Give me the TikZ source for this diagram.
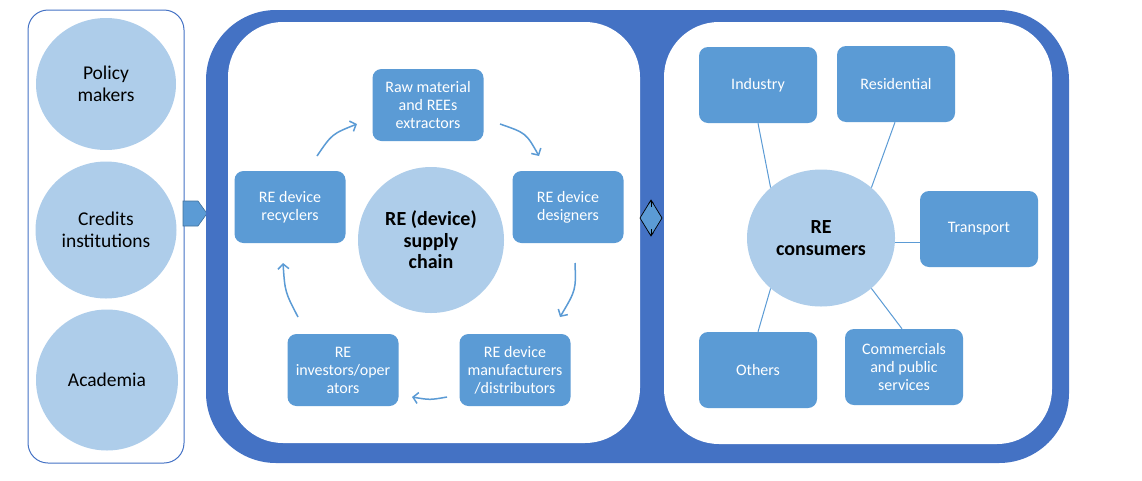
\documentclass[tikz,border=0pt]{standalone}
\usepackage{fontspec}
\setmainfont{Carlito}
\usetikzlibrary{shapes.geometric,arrows.meta}
\definecolor{darkblue}{RGB}{68,114,196}
\definecolor{boxblue}{RGB}{91,155,213}
\definecolor{lightblue}{RGB}{174,205,234}
\definecolor{edgeblue}{RGB}{65,113,156}
\tikzset{
  box/.style={rectangle, rounded corners=9pt, fill=boxblue, text=white, align=center,
    minimum width=111pt, minimum height=72pt, font=\fontsize{16}{18}\selectfont, inner sep=1pt},
  rbox/.style={box, minimum width=118pt, minimum height=76pt},
  bubble/.style={ellipse, fill=lightblue, align=center, inner sep=0pt,
    font=\fontsize{19.5}{22}\selectfont},
  cycarrow/.style={draw=boxblue, line width=1.5pt, -{Straight Barb[length=5pt,width=11pt]}},
  link/.style={draw=boxblue, line width=1pt},
}
\begin{document}
\begin{tikzpicture}[x=1pt,y=-1pt]
\useasboundingbox (0,0) rectangle (1142,480);
% left panel
\draw[darkblue, line width=1pt, rounded corners=20pt] (28,10) rectangle (184,463);
\node[bubble, minimum width=140pt, minimum height=132pt] (pol) at (106,84) {Policy\\makers};
\node[bubble, minimum width=141pt, minimum height=137pt] (cred) at (106,230) {Credits\\institutions};
\node[bubble, minimum width=142pt, minimum height=141pt] (acad) at (107,380) {Academia};
% pentagon arrow
\draw[fill=boxblue, draw=edgeblue, line width=0.6pt] (183,201) -- (198,201) -- (207,213.5) -- (198,226) -- (183,226) -- cycle;
% big frame
\fill[darkblue, rounded corners=70pt] (206,10) rectangle (1069,463);
\fill[white, rounded corners=55pt] (228,22) rectangle (640,443);
\fill[white, rounded corners=55pt] (664,22) rectangle (1052,444);
% diamond
\draw[fill=boxblue, draw=black, line width=0.7pt] (651,200) -- (662,218) -- (651,236) -- (640,218) -- cycle;
\draw[black, line width=0.7pt, -{Straight Barb[length=2.5pt,width=5pt]}] (651,207) -- (651,200.5);
\draw[black, line width=0.7pt, -{Straight Barb[length=2.5pt,width=5pt]}] (651,229) -- (651,235.5);
% supply chain
\node[bubble, minimum size=146pt, font=\bfseries\fontsize{20}{21.5}\selectfont] (sc) at (431,240) {RE (device)\\supply\\chain};
\node[box] (raw) at (428,105) {Raw material\\and REEs\\extractors};
\node[box] (des) at (568,207) {RE device\\designers};
\node[box] (rec) at (290,207) {RE device\\recyclers};
\node[box] (man) at (515,370) {RE device\\manufacturers\\/distributors};
\node[box] (inv) at (343,370) {RE\\investors/oper\\ators};
\coordinate (a1s) at (317,156); \coordinate (a1e) at (357,124);
\coordinate (a2s) at (500,124); \coordinate (a2e) at (539,156);
\coordinate (a3s) at (575,263); \coordinate (a3e) at (560,317);
\coordinate (a4s) at (447,397); \coordinate (a4e) at (412,397);
\coordinate (a5s) at (298,317); \coordinate (a5e) at (283,263);
\draw[cycarrow] (a1s) .. controls (332,134) .. (a1e);
\draw[cycarrow] (a2s) .. controls (526,133) .. (a2e);
\draw[cycarrow] (a3s) .. controls (576,290) .. (a3e);
\draw[cycarrow] (a4s) .. controls (430,400) .. (a4e);
\draw[cycarrow] (a5s) .. controls (285,292) .. (a5e);
% consumers
\node[bubble, minimum width=148pt, minimum height=137pt, font=\bfseries\fontsize{20}{22}\selectfont] (cons) at (821,238) {RE\\consumers};
\node[rbox] (ind) at (758,85) {Industry};
\node[rbox] (res) at (896,84) {Residential};
\node[rbox] (tra) at (979,229) {Transport};
\node[rbox] (oth) at (758,370) {Others};
\node[rbox] (com) at (904,367) {Commercials\\and public\\services};
\draw[link] (ind.south) -- (cons.135);
\draw[link] ([xshift=-1pt]res.south) -- (cons.45);
\draw[link] ([yshift=-4pt]cons.east) -- ([yshift=-4pt]cons.east -| tra.west);
\draw[link] (oth.north) -- (cons.225);
\draw[link] ([xshift=-2pt]com.north) -- (cons.315);
\end{tikzpicture}
\end{document}
